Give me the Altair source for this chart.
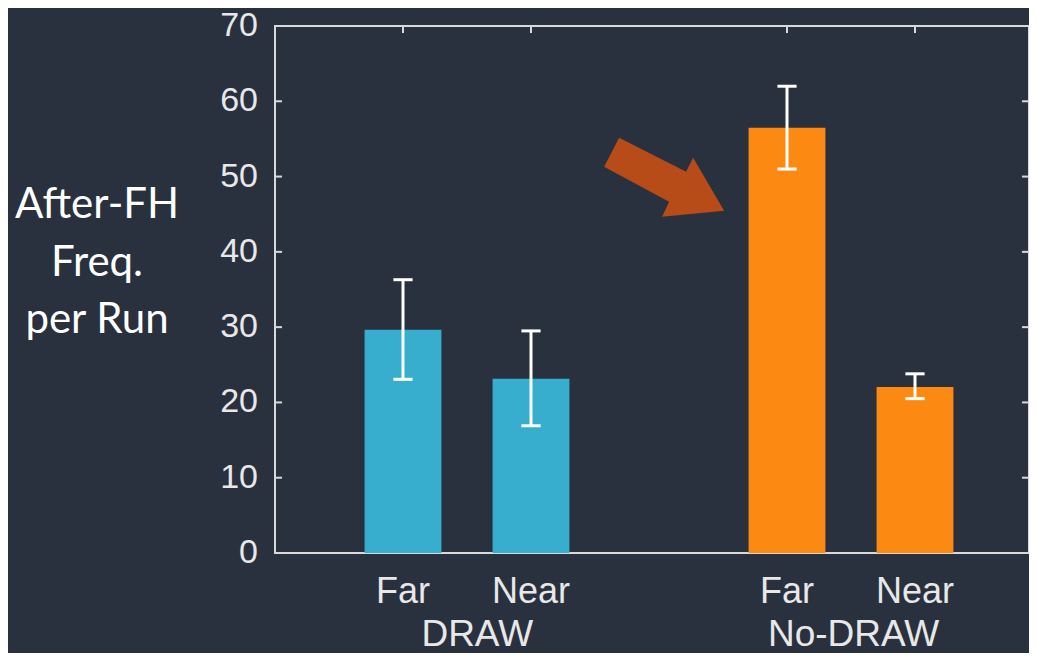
import altair as alt
import pandas as pd

# ---------------- data ----------------
groups = ["DRAW", "DRAW", "No-DRAW", "No-DRAW"]
conditions = ["Far", "Near", "Far", "Near"]
positions = [1, 2, 4, 5]
means = [29.65, 23.15, 56.5, 22.05]
err_low = [23.07, 16.9, 51.0, 20.5]
err_high = [36.3, 29.5, 62.0, 23.8]
bar_colors = ["#37aece", "#37aece", "#fc8a12", "#fc8a12"]

y_ticks = [0, 10, 20, 30, 40, 50, 60, 70]
y_tick_labels = ["0", "10", "20", "30", "40", "50", "60", "70"]
group_labels = ["DRAW", "No-DRAW"]
group_label_pos = [1.58, 4.52]
y_title_lines = ["After-FH", "Freq.", "per Run"]

arrow_x = [3.04]
arrow_y = [49.9]

# ---------------- layout / style ----------------
W, H = 754, 527
X_MAX = W / 128.0
BG = "#29313e"
AXIS_COLOR = "#d9d9d9"
TEXT_COLOR = "#e8e8e8"
BAR_HALF = 0.30
CAP_HALF = 0.075
ARROW_PATH = ("M-0.9375,-0.164 L-0.703,-0.617 L0.344,-0.086 L0.453,-0.305 "
              "L0.9375,0.523 L-0.031,0.617 L0.078,0.383 Z")

xs = alt.Scale(domain=[0, X_MAX], nice=False, zero=False)
ys = alt.Scale(domain=[0, 70], nice=False)

bar_df = pd.DataFrame({
    "group": groups, "cond": conditions, "pos": positions,
    "mean": means, "lo": err_low, "hi": err_high, "color": bar_colors,
})
tick_df = pd.DataFrame({"v": y_ticks, "lab": y_tick_labels})
group_df = pd.DataFrame({"label": group_labels, "pos": group_label_pos})
title_df = pd.DataFrame({"t": ["\n".join(y_title_lines)]})
arrow_df = pd.DataFrame({"x": arrow_x, "y": arrow_y})

base = alt.Chart(bar_df)

bars = base.transform_calculate(
    x_lo=f"datum.pos - {BAR_HALF}", x_hi=f"datum.pos + {BAR_HALF}"
).mark_bar().encode(
    x=alt.X("x_lo:Q", scale=xs, axis=None),
    x2="x_hi:Q",
    y=alt.Y("mean:Q", scale=ys, axis=None),
    y2=alt.datum(0),
    color=alt.Color("color:N", scale=None),
)

err = base.mark_rule(color="white", strokeWidth=3).encode(
    x=alt.X("pos:Q", scale=xs, axis=None),
    y=alt.Y("lo:Q", scale=ys, axis=None),
    y2="hi:Q",
)

caps = base.transform_fold(["lo", "hi"], as_=["end", "yv"]).transform_calculate(
    c1=f"datum.pos - {CAP_HALF}", c2=f"datum.pos + {CAP_HALF}"
).mark_rule(color="white", strokeWidth=3).encode(
    x=alt.X("c1:Q", scale=xs, axis=None),
    x2="c2:Q",
    y=alt.Y("yv:Q", scale=ys, axis=None),
)

left_ticks = alt.Chart(tick_df).mark_rule(color=AXIS_COLOR, strokeWidth=2).encode(
    y=alt.Y("v:Q", scale=ys, axis=None), x=alt.value(0), x2=alt.value(7))
right_ticks = alt.Chart(tick_df).mark_rule(color=AXIS_COLOR, strokeWidth=2).encode(
    y=alt.Y("v:Q", scale=ys, axis=None), x=alt.value(W - 7), x2=alt.value(W))
top_ticks = base.mark_rule(color=AXIS_COLOR, strokeWidth=2).encode(
    x=alt.X("pos:Q", scale=xs, axis=None), y=alt.value(0), y2=alt.value(7))

y_labels = alt.Chart(tick_df).mark_text(
    font="Liberation Sans", fontSize=34, color=TEXT_COLOR, align="right", baseline="middle"
).encode(y=alt.Y("v:Q", scale=ys, axis=None), x=alt.value(-17), text="lab:N")

arrow = alt.Chart(arrow_df).mark_point(
    shape=ARROW_PATH, size=16384, filled=True, color="#b84c19", opacity=1, strokeWidth=0
).encode(x=alt.X("x:Q", scale=xs, axis=None), y=alt.Y("y:Q", scale=ys, axis=None))

cond_labels = base.mark_text(
    font="Liberation Sans", fontSize=36, color=TEXT_COLOR, align="center", baseline="alphabetic"
).encode(x=alt.X("pos:Q", scale=xs, axis=None), y=alt.value(577), text="cond:N")

grp_labels = alt.Chart(group_df).mark_text(
    font="Liberation Sans", fontSize=37, color=TEXT_COLOR, align="center", baseline="alphabetic"
).encode(x=alt.X("pos:Q", scale=xs, axis=None), y=alt.value(620), text="label:N")

y_title = alt.Chart(title_df).mark_text(
    font="Lato", fontSize=42, color="white", align="center", baseline="alphabetic",
    lineBreak="\n", lineHeight=57.5
).encode(x=alt.value(-178), y=alt.value(192), text="t:N")

chart = alt.layer(
    bars, err, caps, left_ticks, right_ticks, top_ticks, y_labels, arrow,
    cond_labels, grp_labels, y_title
).properties(
    width=W, height=H, background=BG,
    autosize=alt.AutoSizeParams(type="none"),
    padding={"left": 267, "top": 18, "right": 0, "bottom": 100},
).configure_view(stroke=AXIS_COLOR, strokeWidth=2)

chart.save("out.html", embed_options={"renderer": "svg", "actions": False})
